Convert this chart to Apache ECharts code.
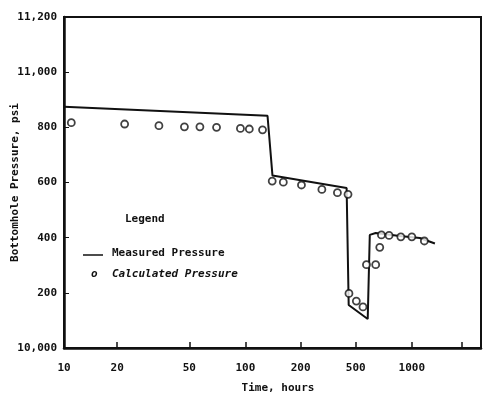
<!DOCTYPE html>
<html>
<head>
<meta charset="utf-8">
<script src="https://cdn.jsdelivr.net/npm/echarts@6/dist/echarts.min.js"></script>
<style>
  html, body { margin: 0; padding: 0; background: #fff; }
  #chart { width: 483px; height: 393px; }
</style>
</head>
<body>
<div id="chart"></div>
<script>
// x axis of the original is printed log paper with uneven decades,
// so ticks are placed by hand and data is interpolated between them
const tickHours = [10, 20, 50, 100, 200, 500, 1000, 2000]
const tickPos = [0, 53, 125, 181, 236, 291, 347, 397]
const tickLabels = ['10', '20', '50', '100', '200', '500', '1000', '']

const yTicks = [10000, 10200, 10400, 10600, 10800, 11000, 11200]
const yLabels = ['10,000', '200', '400', '600', '800', '11,000', '11,200']

// measured pressure (line)
const measuredHours = [10, 132, 140.5, 430, 445, 580, 595, 640, 862, 1117, 1376]
const measuredPsi = [10875, 10842, 10625, 10580, 10156, 10105, 10410, 10417, 10406, 10399, 10379]

// calculated pressure (circles)
const calcHours = [11, 22, 34, 47, 57, 70, 94, 105, 124, 140, 161, 203, 285, 369, 440, 447, 504, 547, 571, 640, 673, 687, 755, 873, 1000, 1189]
const calcPsi = [10817, 10812, 10806, 10802, 10802, 10800, 10796, 10794, 10791, 10605, 10601, 10591, 10575, 10563, 10557, 10198, 10170, 10149, 10302, 10302, 10365, 10410, 10408, 10403, 10403, 10388]

function toPos(h) {
  for (let i = 0; i < tickHours.length - 1; i++) {
    if (h <= tickHours[i + 1] || i === tickHours.length - 2) {
      const f = Math.log(h / tickHours[i]) / Math.log(tickHours[i + 1] / tickHours[i])
      return tickPos[i] + (tickPos[i + 1] - tickPos[i]) * f
    }
  }
}

const font = 'DejaVu Sans Mono'
const ink = '#111'

const chart = echarts.init(document.getElementById('chart'))

chart.setOption({
  animation: false,
  backgroundColor: '#fff',
  grid: {
    left: 64, right: 2, top: 17, bottom: 45,
    outerBoundsMode: 'none',
    containLabel: false,
    show: true, borderColor: ink, borderWidth: 2,
  },
  xAxis: {
    type: 'value',
    min: 0,
    max: 416,
    name: 'Time, hours',
    nameLocation: 'middle',
    nameGap: 35,
    nameMoveOverlap: false,
    nameTextStyle: { fontFamily: font, fontWeight: 'bold', fontSize: 11, color: ink, padding: [0, 0, 0, 11] },
    axisLine: { show: true, lineStyle: { color: ink, width: 2.5 } },
    axisTick: { inside: true, length: 6, lineStyle: { color: ink, width: 1.5 }, customValues: tickPos },
    axisLabel: {
      customValues: tickPos.slice(0, 7),
      margin: 15,
      fontFamily: font, fontWeight: 'bold', fontSize: 11, color: ink,
      formatter: v => tickLabels[tickPos.indexOf(v)] || '',
    },
    splitLine: { show: false },
  },
  yAxis: {
    type: 'value',
    min: 10000,
    max: 11200,
    interval: 200,
    name: 'Bottomhole Pressure, psi',
    nameLocation: 'middle',
    nameGap: 43,
    nameMoveOverlap: false,
    nameTextStyle: { fontFamily: font, fontWeight: 'bold', fontSize: 11, color: ink },
    axisLine: { show: true, lineStyle: { color: ink, width: 2.5 } },
    axisTick: { inside: true, length: 5, lineStyle: { color: ink, width: 1 } },
    axisLabel: {
      margin: 7,
      fontFamily: font, fontWeight: 'bold', fontSize: 11, color: ink,
      formatter: v => yLabels[yTicks.indexOf(v)] || '',
    },
    splitLine: { show: false },
  },
  graphic: [
    { type: 'text', left: 125, top: 214, style: { text: 'Legend', font: 'bold 11px ' + font, fill: ink } },
    { type: 'line', shape: { x1: 83, y1: 255, x2: 103, y2: 255 }, style: { stroke: ink, lineWidth: 1.5 } },
    { type: 'text', left: 112, top: 248, style: { text: 'Measured Pressure', font: 'bold 11px ' + font, fill: ink } },
    { type: 'text', left: 91, top: 269, style: { text: 'o', font: 'italic bold 11px ' + font, fill: ink } },
    { type: 'text', left: 112, top: 269, style: { text: 'Calculated Pressure', font: 'italic bold 11px ' + font, fill: ink } },
  ],
  series: [
    {
      name: 'Measured Pressure',
      type: 'line',
      symbol: 'none',
      lineStyle: { color: ink, width: 2 },
      data: measuredHours.map((h, i) => [toPos(h), measuredPsi[i]]),
      z: 2,
    },
    {
      name: 'Calculated Pressure',
      type: 'scatter',
      symbol: 'circle',
      symbolSize: 7,
      itemStyle: { color: '#fff', borderColor: ink, borderWidth: 1.8 },
      data: calcHours.map((h, i) => [toPos(h), calcPsi[i]]),
      z: 3,
    },
  ],
})
</script>
</body>
</html>
